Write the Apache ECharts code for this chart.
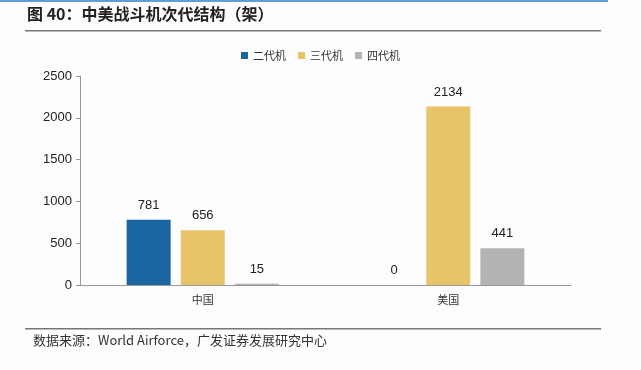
<!DOCTYPE html>
<html><head><meta charset="utf-8">
<script src="https://cdn.jsdelivr.net/npm/echarts@6/dist/echarts.min.js"></script>
<style>html,body{margin:0;padding:0;background:#fdfdff;}#c{width:641px;height:370px;}</style>
</head><body><div id="c"></div>
<script>
var categories = ['中国', '美国'];
var seriesNames = ['二代机', '三代机', '四代机'];
var gen2 = [781, 0];
var gen3 = [656, 2134];
var gen4 = [15, 441];
var colors = ['#1b65a1', '#e8c468', '#b3b3b3'];
var titleText = '图 40：中美战斗机次代结构（架）';
var sourceText = '数据来源：World Airforce，广发证券发展研究中心';

var NUM_FONT = '"Liberation Sans", Arial, sans-serif';
var CJK_FONT = '"Noto Sans CJK SC", sans-serif';
var chart = echarts.init(document.getElementById('c'), null, {renderer: 'canvas'});
var data = [gen2, gen3, gen4];
var series = seriesNames.map(function (n, i) {
  return {
    name: n, type: 'bar', data: data[i], barWidth: 44, barGap: '23%',
    itemStyle: {color: colors[i]},
    label: {show: true, position: 'top', distance: 8, color: '#222', fontSize: 13, fontFamily: NUM_FONT}
  };
});
chart.setOption({
  backgroundColor: '#fdfdff',
  animation: false,
  legend: {
    top: 45, left: 'center', itemWidth: 7, itemHeight: 7, itemGap: 12,
    icon: 'rect',
    textStyle: {fontSize: 11, color: '#333', fontFamily: CJK_FONT},
    data: seriesNames
  },
  grid: {left: 80, right: 70, top: 76, bottom: 85, containLabel: false},
  xAxis: {
    type: 'category', data: categories,
    axisLine: {lineStyle: {color: '#999'}},
    axisTick: {show: false},
    axisLabel: {fontSize: 11, color: '#333', margin: 9, fontFamily: CJK_FONT}
  },
  yAxis: {
    type: 'value', min: 0, max: 2500, interval: 500,
    axisLine: {show: true, lineStyle: {color: '#999'}},
    axisTick: {show: true, length: 4, lineStyle: {color: '#999'}},
    splitLine: {show: false},
    axisLabel: {fontSize: 13, color: '#222', margin: 8, fontFamily: NUM_FONT, formatter: function (v) { return String(v); }}
  },
  series: series,
  graphic: [
    {type: 'rect', shape: {x: 0, y: 0, width: 608, height: 2}, style: {fill: '#5aa0d8'}},
    {type: 'text', left: 27, top: 6, style: {text: titleText, fontSize: 16, fontWeight: 'bold', fill: '#222', fontFamily: CJK_FONT}},
    {type: 'rect', shape: {x: 25, y: 30, width: 576, height: 1.5}, style: {fill: '#777'}},
    {type: 'rect', shape: {x: 25, y: 328, width: 576, height: 1.5}, style: {fill: '#777'}},
    {type: 'text', left: 33, top: 334, style: {text: sourceText, fontSize: 13, fill: '#333', fontFamily: CJK_FONT}}
  ]
});
</script></body></html>
